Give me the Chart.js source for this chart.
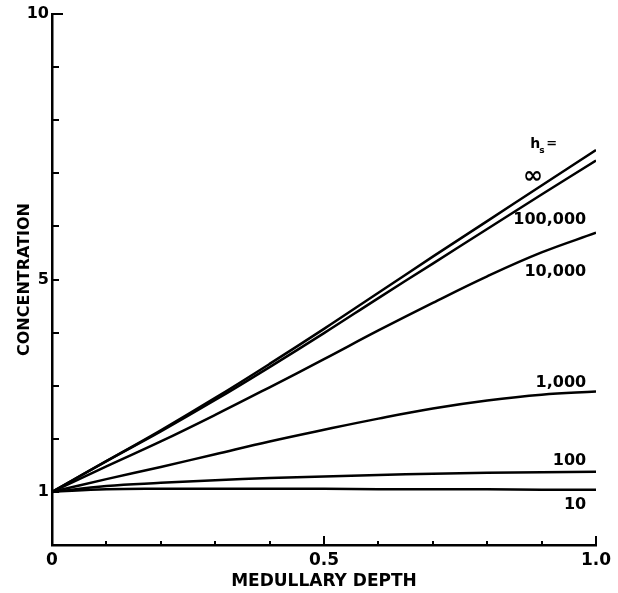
<!DOCTYPE html>
<html>
<head>
<meta charset="utf-8">
<script src="https://cdn.jsdelivr.net/npm/chart.js@4"></script>
<style>
  html, body { margin: 0; padding: 0; background: #fff; }
  #wrap { width: 618px; height: 593px; }
</style>
</head>
<body>
<div id="wrap"><canvas id="medulla"></canvas></div>
<script>
// medullary depth (fraction) and concentration for each h_s value
const depth = [0, 0.1, 0.2, 0.3, 0.4, 0.5, 0.6, 0.7, 0.8, 0.9, 1.0];
const hsInf = [1.0, 1.58, 2.16, 2.77, 3.41, 4.07, 4.75, 5.43, 6.1, 6.77, 7.44];
const hs100000 = [1.0, 1.58, 2.14, 2.73, 3.35, 3.99, 4.65, 5.3, 5.95, 6.6, 7.24];
const hs10000 = [1.0, 1.48, 1.95, 2.45, 2.97, 3.5, 4.04, 4.56, 5.06, 5.51, 5.88];
const hs1000 = [1.0, 1.24, 1.47, 1.71, 1.95, 2.17, 2.38, 2.57, 2.72, 2.83, 2.89];
const hs100 = [1.0, 1.11, 1.17, 1.22, 1.26, 1.29, 1.32, 1.34, 1.36, 1.37, 1.38];
const hs10 = [1.0, 1.05, 1.06, 1.06, 1.06, 1.06, 1.05, 1.05, 1.05, 1.04, 1.04];

const seriesNames = ["∞", "100,000", "10,000", "1,000", "100", "10"];
const seriesValues = [hsInf, hs100000, hs10000, hs1000, hs100, hs10];

const xLabelled = [0, 0.5, 1.0];
const xLabelText = ["0", "0.5", "1.0"];
const yLabelled = [1, 5, 10];

const FONT = "'DejaVu Sans', sans-serif";

const near = (a, b) => Math.abs(a - b) < 1e-6;

// where each curve label sits, in data units
const curveLabels = [
  { text: "100,000", x: 0.982, y: 6.12 },
  { text: "10,000", x: 0.982, y: 5.15 },
  { text: "1,000", x: 0.982, y: 3.06 },
  { text: "100", x: 0.982, y: 1.58 },
  { text: "10", x: 0.982, y: 0.75 },
];

const extras = {
  id: "extras",
  afterDraw(chart) {
    const ctx = chart.ctx;
    const xs = chart.scales.x;
    const ys = chart.scales.y;
    ctx.save();
    ctx.strokeStyle = "#000";
    ctx.lineWidth = 2;
    ctx.lineCap = "butt";

    // inward ticks on the x axis
    for (let i = 1; i <= 10; i++) {
      const v = i / 10;
      const px = Math.round(xs.getPixelForValue(v));
      const len = i % 5 === 0 ? 9 : 4;
      ctx.beginPath();
      ctx.moveTo(px, ys.bottom);
      ctx.lineTo(px, ys.bottom - len);
      ctx.stroke();
    }
    // inward ticks on the y axis
    for (let v = 1; v <= 10; v++) {
      const py = Math.round(ys.getPixelForValue(v));
      const len = v === 10 ? 11 : 7;
      ctx.beginPath();
      ctx.moveTo(xs.left, py);
      ctx.lineTo(xs.left + len, py);
      ctx.stroke();
    }

    ctx.fillStyle = "#000";
    ctx.textBaseline = "middle";
    ctx.textAlign = "right";
    ctx.font = "bold 16px " + FONT;
    curveLabels.forEach((l) => {
      ctx.fillText(l.text, xs.getPixelForValue(l.x), ys.getPixelForValue(l.y));
    });

    // infinity symbol
    ctx.textAlign = "center";
    ctx.font = "bold 24px " + FONT;
    ctx.fillText(seriesNames[0], xs.getPixelForValue(0.884), ys.getPixelForValue(6.93));

    // h_s =
    const hx = xs.getPixelForValue(0.879);
    const hy = ys.getPixelForValue(7.57);
    ctx.textAlign = "left";
    ctx.textBaseline = "alphabetic";
    ctx.font = "bold 14px " + FONT;
    ctx.fillText("h", hx, hy + 5);
    const hw = ctx.measureText("h").width;
    ctx.font = "bold 9px " + FONT;
    ctx.fillText("s", hx + hw - 1, hy + 10);
    ctx.font = "bold 13px " + FONT;
    ctx.fillText("=", hx + hw + 6, hy + 4);
    ctx.restore();
  },
};

const datasets = seriesValues.map((vals, i) => ({
  label: seriesNames[i],
  data: depth.map((d, j) => ({ x: d, y: vals[j] })),
  borderColor: "#000",
  borderWidth: 2.5,
  pointRadius: 0,
  fill: false,
  tension: 0.4,
}));

new Chart(document.getElementById("medulla"), {
  type: "line",
  data: { datasets: datasets },
  options: {
    responsive: true,
    maintainAspectRatio: false,
    animation: false,
    layout: { padding: { left: 0, right: 22, top: 14, bottom: 0 } },
    plugins: { legend: { display: false }, tooltip: { enabled: false } },
    scales: {
      x: {
        type: "linear",
        min: 0,
        max: 1,
        grid: { display: false, drawTicks: false },
        border: { display: true, color: "#000", width: 2.5 },
        ticks: {
          stepSize: 0.1,
          autoSkip: false,
          maxRotation: 0,
          padding: 5,
          color: "#000",
          font: { family: FONT, size: 17, weight: "bold" },
          callback: (v) => {
            const k = xLabelled.findIndex((t) => near(t, v));
            return k >= 0 ? xLabelText[k] : "";
          },
        },
        title: {
          display: true,
          text: "MEDULLARY DEPTH",
          color: "#000",
          font: { family: FONT, size: 17, weight: "bold" },
          padding: { top: 0, bottom: 1 },
        },
        afterFit: (s) => { s.height = 48; },
      },
      y: {
        type: "linear",
        min: 0,
        max: 10,
        grid: { display: false, drawTicks: false },
        border: { display: true, color: "#000", width: 2.5 },
        ticks: {
          stepSize: 1,
          autoSkip: false,
          padding: 3,
          color: "#000",
          font: { family: FONT, size: 16, weight: "bold" },
          callback: (v) => (yLabelled.some((t) => near(t, v)) ? String(v) : ""),
        },
        title: {
          display: true,
          text: "CONCENTRATION",
          color: "#000",
          font: { family: FONT, size: 16, weight: "bold" },
          padding: { top: 15, bottom: 0 },
        },
        afterFit: (s) => { s.width = 52; },
      },
    },
  },
  plugins: [extras],
});
</script>
</body>
</html>
